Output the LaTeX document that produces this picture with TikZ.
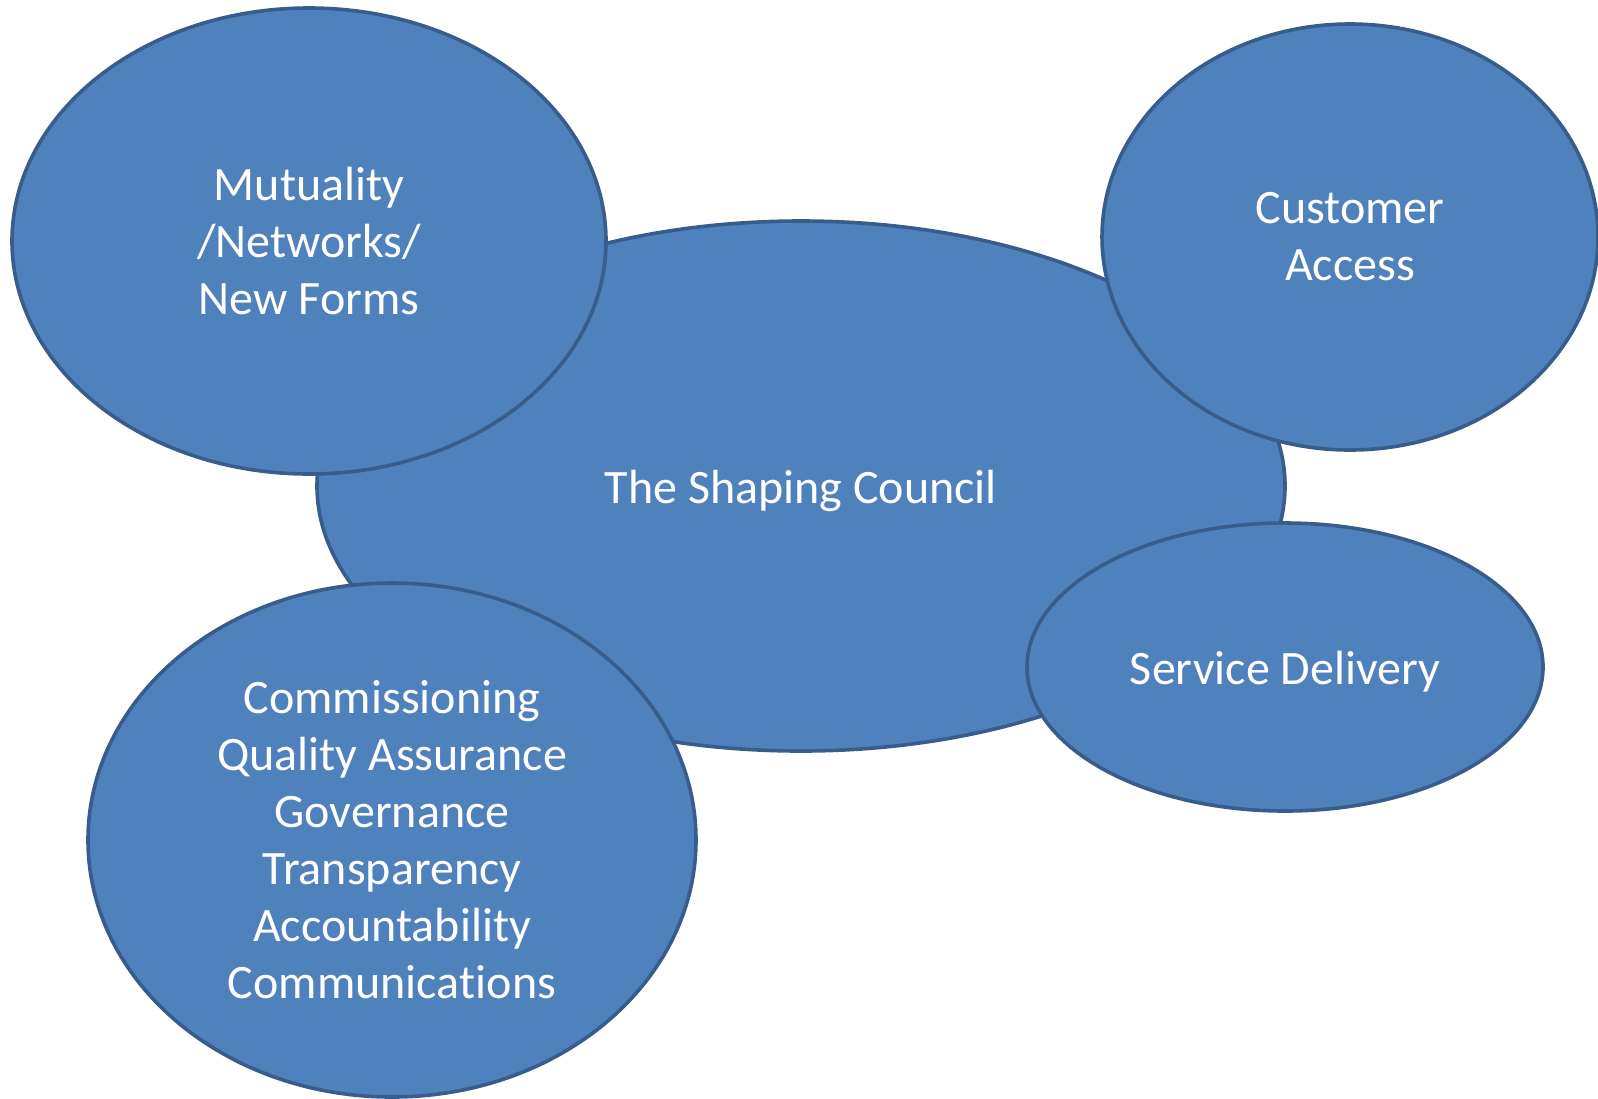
\documentclass[tikz,border=0pt]{standalone}
\usepackage{fontspec}
\setmainfont{Carlito}[Ligatures={NoCommon,NoContextual,NoRare}]
\usetikzlibrary{shapes.geometric}
\definecolor{blobfill}{HTML}{4F81BD}
\definecolor{blobline}{HTML}{385D8A}
\begin{document}
\begin{tikzpicture}
  [x=0.5pt,y=-0.5pt,every node/.style={ellipse,draw=blobline,fill=blobfill,line width=1.8pt,
   inner sep=0pt,text=white,align=center,font=\fontsize{24}{28.5}\selectfont}]
  \useasboundingbox (0,0) rectangle (1598,1098);
  \node (n1)[minimum width=484pt,minimum height=265pt,text height=22pt,text depth=5pt] at (801,486) {The Shaping Council};
  \node (n2)[minimum width=297pt,minimum height=233pt] at (309,241) {Mutuality\\/Networks/\\New Forms};
  \node (n3)[minimum width=248pt,minimum height=213pt] at (1350,237) {Customer\\Access};
  \node (n4)[minimum width=258pt,minimum height=144pt,text height=22pt,text depth=5pt] at (1285,667) {Service Delivery};
  \node (n5)[minimum width=304pt,minimum height=257pt] at (392,840) {Commissioning\\Quality Assurance\\Governance\\Transparency\\Accountability\\Communica\kern0pt tions};

\end{tikzpicture}
\end{document}
